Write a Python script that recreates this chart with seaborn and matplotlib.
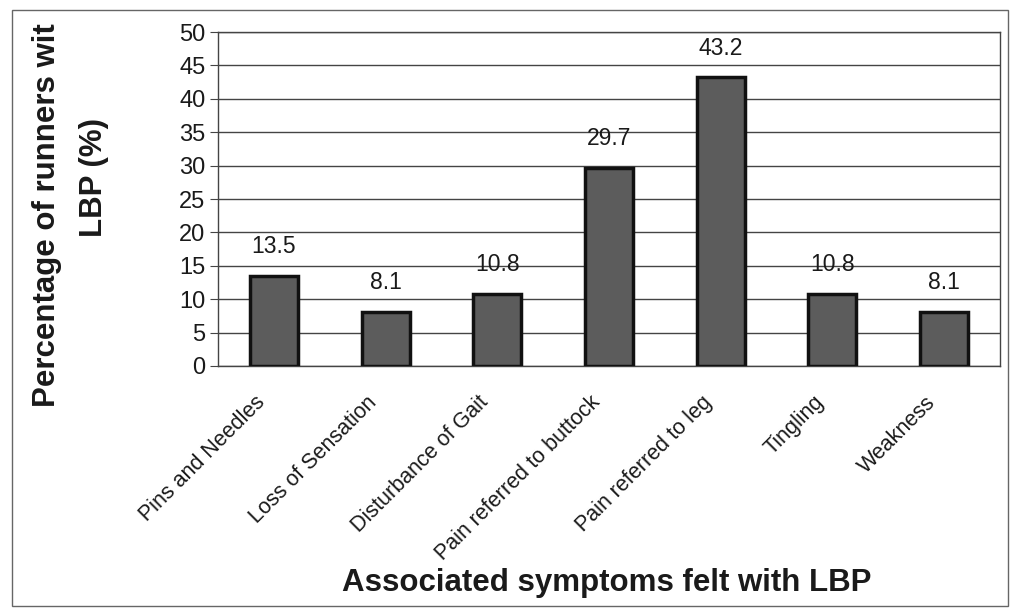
import matplotlib
matplotlib.use("Agg")
import matplotlib.pyplot as plt
import matplotlib.transforms as mtransforms
import seaborn as sns
import pandas as pd
from matplotlib.patches import Rectangle

symptoms = ["Pins and Needles", "Loss of Sensation", "Disturbance of Gait",
            "Pain referred to buttock", "Pain referred to leg", "Tingling", "Weakness"]
percent = [13.5, 8.1, 10.8, 29.7, 43.2, 10.8, 8.1]
yticks = [0, 5, 10, 15, 20, 25, 30, 35, 40, 45, 50]
ylabel_lines = ["Percentage of runners wit", "LBP (%)"]

df = pd.DataFrame({"Symptom": symptoms, "Percent": percent})

sns.set_style("white")
plt.rcParams["font.family"] = ["Liberation Sans", "DejaVu Sans"]

fig = plt.figure(figsize=(10.1, 6.1), dpi=100)
ax = fig.add_axes([0.2158, 0.40, 0.7742, 0.5475])

sns.barplot(data=df, x="Symptom", y="Percent", color="#5c5c5c", width=0.43,
            edgecolor="#111111", linewidth=2.5, saturation=1, ax=ax, zorder=3)

ax.set_ylim(0, 50)
ax.set_xlim(-0.5, len(symptoms) - 0.5)
ax.set_yticks(yticks)
ax.set_yticklabels([str(t) for t in yticks], fontsize=17)
ax.yaxis.grid(True, color="#444444", linewidth=1)
ax.set_axisbelow(True)

for i, v in enumerate(percent):
    ax.annotate(f"{v}", (i, v), xytext=(0, 21), textcoords="offset points",
                ha="center", va="center", fontsize=16.5, color="#1a1a1a")

# Excel style: ticks between categories, labels at centers
ax.set_xticks(range(len(symptoms)))
ax.set_xticklabels(symptoms, rotation=45, ha="right", va="center",
                   rotation_mode="anchor", fontsize=15.5, color="#1a1a1a")
ax.tick_params(axis="x", which="major", length=0, pad=24)
shift = mtransforms.ScaledTranslation(-12 / 100, 0, fig.dpi_scale_trans)
for lbl in ax.get_xticklabels():
    lbl.set_transform(lbl.get_transform() + shift)
ax.set_xticks([i - 0.5 for i in range(len(symptoms) + 1)], minor=True)
ax.tick_params(axis="x", which="minor", length=6, color="#444444", direction="out")
ax.tick_params(axis="y", length=6, color="#444444", direction="out", pad=3,
               left=True, labelcolor="#1a1a1a")

for s in ax.spines.values():
    s.set_color("#444444")
    s.set_linewidth(1)

ax.set_xlabel("Associated symptoms felt with LBP", fontsize=22.5, fontweight="bold",
              color="#1a1a1a", labelpad=0)
ax.xaxis.set_label_coords(0.497, -0.604)
ax.set_ylabel("")

# wrapped y label, two lines as in the original
ax.text(-0.2187, 0.452, ylabel_lines[0], transform=ax.transAxes, rotation=90,
        ha="center", va="center", fontsize=22.5, fontweight="bold", color="#1a1a1a")
ax.text(-0.1586, 0.563, ylabel_lines[1], transform=ax.transAxes, rotation=90,
        ha="center", va="center", fontsize=22.5, fontweight="bold", color="#1a1a1a")

fig.patches.append(Rectangle((0.012, 0.006), 0.986, 0.978, transform=fig.transFigure,
                             fill=False, edgecolor="#666666", linewidth=1))

fig.savefig("out.png", dpi=100, facecolor="white")
